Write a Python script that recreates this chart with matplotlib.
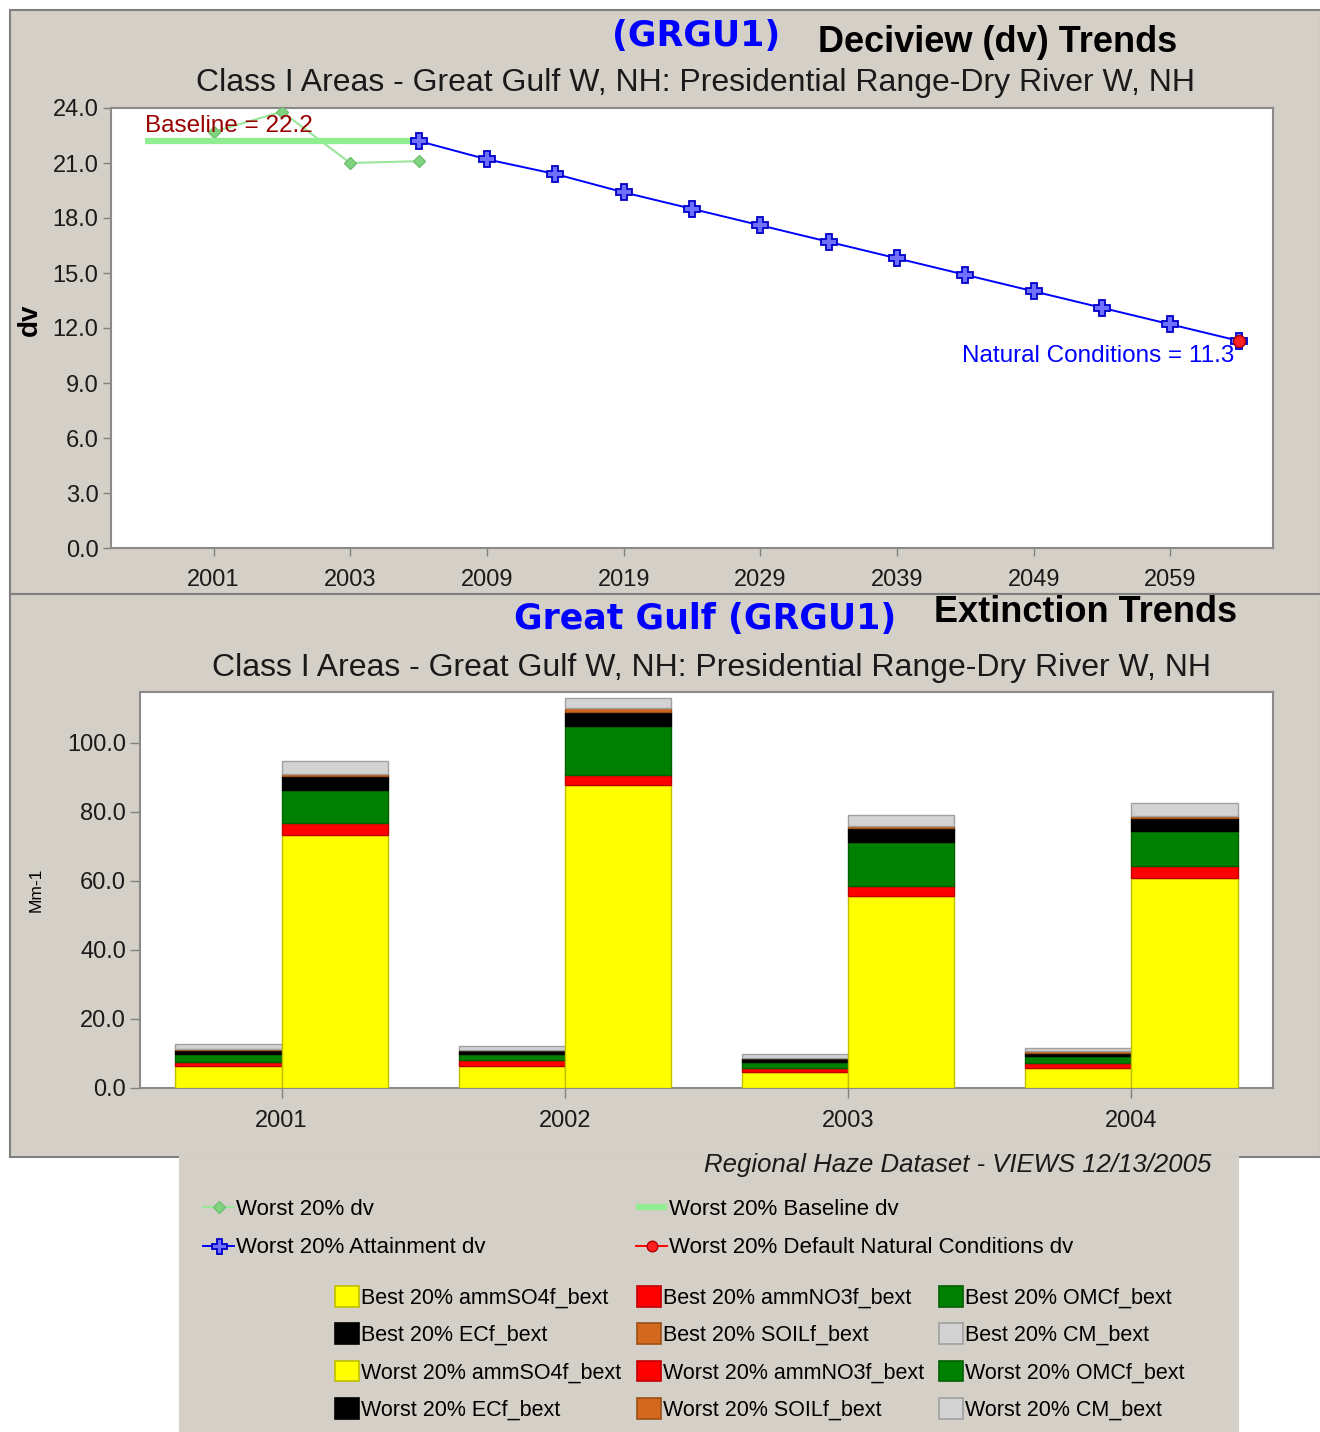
import matplotlib
matplotlib.use("Agg")
import matplotlib.pyplot as plt
import matplotlib.colors as mcolors
from matplotlib.patches import Rectangle, Patch
from matplotlib.lines import Line2D

# ---------------- data: deciview trends ----------------
dv_years = ["2000", "2001", "2002", "2003", "2004", "2009", "2014", "2019", "2024",
            "2029", "2034", "2039", "2044", "2049", "2054", "2059", "2064"]
dv_tick_labels = ["2001", "2003", "2009", "2019", "2029", "2039", "2049", "2059"]
dv_yticks = [0.0, 3.0, 6.0, 9.0, 12.0, 15.0, 18.0, 21.0, 24.0]

worst_dv_years = ["2001", "2002", "2003", "2004"]
worst_dv = [22.7, 23.8, 21.0, 21.1]

baseline_years = ["2000", "2001", "2002", "2003", "2004"]
baseline_dv = [22.2, 22.2, 22.2, 22.2, 22.2]

attain_years = ["2004", "2009", "2014", "2019", "2024", "2029", "2034", "2039",
                "2044", "2049", "2054", "2059", "2064"]
attain_dv = [22.2, 21.2, 20.4, 19.4, 18.5, 17.6, 16.7, 15.8, 14.9, 14.0, 13.1, 12.2, 11.3]

natural_years = ["2064"]
natural_dv = [11.3]

baseline_text = "Baseline = 22.2"
natural_text = "Natural Conditions = 11.3"

# ---------------- data: extinction trends ----------------
ext_years = ["2001", "2002", "2003", "2004"]
ext_yticks = [0.0, 20.0, 40.0, 60.0, 80.0, 100.0]
species = ["ammSO4f_bext", "ammNO3f_bext", "OMCf_bext", "ECf_bext", "SOILf_bext", "CM_bext"]

best_so4 = [6.4, 6.4, 4.6, 5.8]
best_no3 = [1.2, 1.7, 1.3, 1.3]
best_omc = [2.2, 1.7, 1.6, 2.1]
best_ec = [1.2, 1.2, 1.1, 0.9]
best_soil = [0.2, 0.1, 0.1, 0.6]
best_cm = [1.6, 1.1, 1.1, 0.8]

worst_so4 = [73.3, 87.9, 55.7, 60.9]
worst_no3 = [3.5, 2.7, 2.9, 3.5]
worst_omc = [9.6, 14.3, 12.6, 10.1]
worst_ec = [4.0, 4.1, 4.1, 3.6]
worst_soil = [0.5, 1.2, 0.5, 0.7]
worst_cm = [3.8, 2.7, 3.4, 3.7]

best_stack = [best_so4, best_no3, best_omc, best_ec, best_soil, best_cm]
worst_stack = [worst_so4, worst_no3, worst_omc, worst_ec, worst_soil, worst_cm]

# ---------------- styles ----------------
W, H = 1320, 1432
GREY = "#D4D0C8"
SP_COLORS = ["#FFFF00", "#FF0000", "#008000", "#000000", "#D2691E", "#D3D3D3"]


def darker(c, f=0.75):
    r, g, b = mcolors.to_rgb(c)
    return (r * f, g * f, b * f)


SP_EDGES = [darker(c) if c != "#000000" else "#000000" for c in SP_COLORS]
SP_EDGES[5] = "#A0A0A0"

plt.rcParams["font.family"] = ["Liberation Sans", "DejaVu Sans"]

fig = plt.figure(figsize=(W / 100, H / 100), dpi=100)
fig.patch.set_facecolor("white")


def fx(px):
    return px / W


def fy(py):
    return 1 - py / H


def panel(x0, y0, x1, y1, edge="#808080"):
    fig.add_artist(Rectangle((fx(x0), fy(y1)), (x1 - x0) / W, (y1 - y0) / H,
                             transform=fig.transFigure, facecolor=GREY,
                             edgecolor=edge, lw=1.5, zorder=-10))


panel(10, 10, 1321, 594)
panel(10, 594, 1321, 1157)
panel(180, 1157, 1238, 1433, edge=GREY)

# ================= top chart =================
ax1 = fig.add_axes([fx(111), fy(548), (1273 - 111) / W, (548 - 108) / H])
ax1.set_facecolor("white")
pos = {y: i for i, y in enumerate(dv_years)}

l_dv, = ax1.plot([pos[y] for y in worst_dv_years], worst_dv, color="#99E699", lw=1.5,
                 marker="D", ms=6.5, mfc="#80D480", mec="#70C070", zorder=3)
l_base, = ax1.plot([pos[y] for y in baseline_years], baseline_dv, color="#90EE90",
                   lw=4.5, solid_capstyle="butt", zorder=4)
l_att, = ax1.plot([pos[y] for y in attain_years], attain_dv, color="#0000FF", lw=1.4,
                  marker="P", ms=12, mfc="#7070FF", mec="#0000C8", mew=1.3, zorder=5)
l_nat, = ax1.plot([pos[y] for y in natural_years], natural_dv, color="#FF0000", lw=1.4,
                  marker="o", ms=8.5, mfc="#FF2020", mec="#B00000", zorder=6)

ax1.text(pos[baseline_years[0]], baseline_dv[0] + 0.8, baseline_text, color="#990000",
         fontsize=17.5, ha="left", va="center", zorder=7)
ax1.text(pos[natural_years[0]] - 0.07, natural_dv[0] - 0.8, natural_text, color="#0000FF",
         fontsize=17.5, ha="right", va="center", zorder=7)

ax1.set_xlim(-0.5, len(dv_years) - 0.5)
ax1.set_ylim(0, 24)
ax1.set_xticks([pos[y] for y in dv_tick_labels])
ax1.set_xticklabels(dv_tick_labels, fontsize=17)
ax1.set_yticks(dv_yticks)
ax1.set_yticklabels([f"{v:.1f}" for v in dv_yticks], fontsize=17)
ax1.tick_params(axis="both", direction="out", length=6, width=1, color="#808080",
                pad=3, labelcolor="#1a1a1a")
ax1.tick_params(axis="x", pad=9)
for s in ax1.spines.values():
    s.set_color("#8A8A8A")
    s.set_linewidth(1.5)

fig.text(fx(30), fy(320), "dv", rotation=90, fontsize=20, fontweight="bold",
         ha="center", va="center")
fig.text(fx(612), fy(36), "(GRGU1)", color="#0000FF", fontsize=25, fontweight="bold",
         family=["DejaVu Sans"], ha="left", va="center")
fig.text(fx(818), fy(42), "Deciview (dv) Trends", color="black", fontsize=26,
         fontweight="bold", ha="left", va="center")
fig.text(fx(696), fy(83), "Class I Areas - Great Gulf W, NH: Presidential Range-Dry River W, NH",
         color="#1a1a1a", fontsize=23, ha="center", va="center")

# ================= bottom chart =================
ax2 = fig.add_axes([fx(140), fy(1088), (1273 - 140) / W, (1088 - 692) / H])
ax2.set_facecolor("white")
x = list(range(len(ext_years)))
bw = 0.375
bottom_b = [0.0] * len(x)
bottom_w = [0.0] * len(x)
for vals, c, e in zip(best_stack, SP_COLORS, SP_EDGES):
    ax2.bar([xi - bw for xi in x], vals, bw, bottom=bottom_b, align="edge", color=c,
            edgecolor=e, lw=1, zorder=3)
    bottom_b = [p + v for p, v in zip(bottom_b, vals)]
for vals, c, e in zip(worst_stack, SP_COLORS, SP_EDGES):
    ax2.bar(x, vals, bw, bottom=bottom_w, align="edge", color=c,
            edgecolor=e, lw=1, zorder=3)
    bottom_w = [p + v for p, v in zip(bottom_w, vals)]

ax2.set_xlim(-0.5, len(ext_years) - 0.5)
ax2.set_ylim(0, 114.7)
ax2.set_xticks(x)
ax2.set_xticklabels(ext_years, fontsize=17)
ax2.set_yticks(ext_yticks)
ax2.set_yticklabels([f"{v:.1f}" for v in ext_yticks], fontsize=17)
ax2.tick_params(axis="both", direction="out", length=7, width=1, color="#808080",
                pad=3, labelcolor="#1a1a1a")
ax2.tick_params(axis="x", pad=9)
for s in ax2.spines.values():
    s.set_color("#8A8A8A")
    s.set_linewidth(1.5)

fig.text(fx(36), fy(890), "Mm-1", rotation=90, fontsize=12.5, ha="center", va="center")
fig.text(fx(514), fy(619), "Great Gulf (GRGU1)", color="#0000FF", fontsize=25,
         fontweight="bold", family=["DejaVu Sans"], ha="left", va="center")
fig.text(fx(934), fy(613), "Extinction Trends", color="black", fontsize=26,
         fontweight="bold", ha="left", va="center")
fig.text(fx(712), fy(668), "Class I Areas - Great Gulf W, NH: Presidential Range-Dry River W, NH",
         color="#1a1a1a", fontsize=23, ha="center", va="center")
fig.text(fx(1211), fy(1165), "Regional Haze Dataset - VIEWS 12/13/2005", style="italic",
         color="#1a1a1a", fontsize=18.5, ha="right", va="center")

# ================= legends =================
leg_kw = dict(loc="upper left", frameon=False, borderpad=0, borderaxespad=0,
              handletextpad=0.1)
fig.legend([l_dv, l_att], ["Worst 20% dv", "Worst 20% Attainment dv"],
           bbox_to_anchor=(fx(203), fy(1199)), fontsize=16, handlelength=1.4,
           labelspacing=0.78, markerscale=0.9, **leg_kw)
fig.legend([l_base, l_nat], ["Worst 20% Baseline dv", "Worst 20% Default Natural Conditions dv"],
           bbox_to_anchor=(fx(636), fy(1199)), fontsize=16, handlelength=1.4,
           labelspacing=0.78, markerscale=0.9, **leg_kw)

col_specs = [(335, [0, 3]), (637, [1, 4]), (939, [2, 5])]
for xpx, idxs in col_specs:
    handles, labels = [], []
    for grp in ("Best", "Worst"):
        for i in idxs:
            handles.append(Patch(facecolor=SP_COLORS[i], edgecolor=SP_EDGES[i], lw=1.2))
            labels.append(f"{grp} 20% {species[i]}")
    fig.legend(handles, labels, bbox_to_anchor=(fx(xpx), fy(1286)), fontsize=15.5,
               handlelength=1.1, handleheight=1.1, labelspacing=0.68, **leg_kw)

fig.savefig("out.png", dpi=100, facecolor=fig.get_facecolor())
